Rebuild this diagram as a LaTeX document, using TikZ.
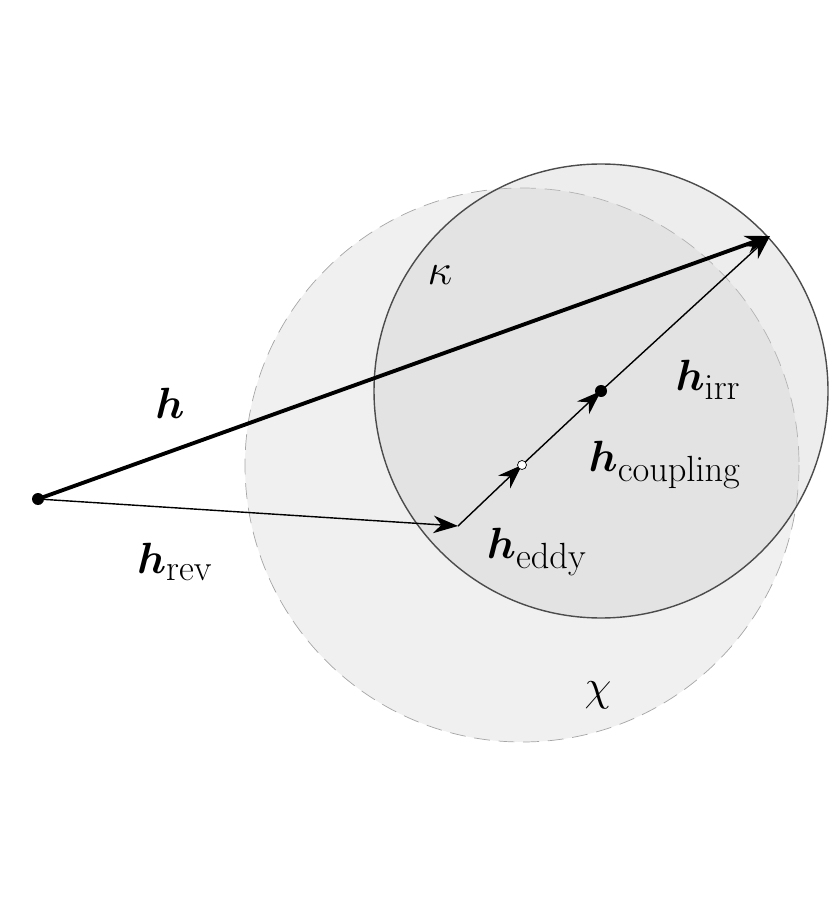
\documentclass[tikz,border=0pt]{standalone}
\usepackage{amsmath,bm}
\usetikzlibrary{arrows.meta}
\tikzset{
  vec/.style={thick,-{Stealth[length=14pt,width=10pt]}},
  lbl/.style={font=\fontsize{30}{36}\selectfont}
}
\begin{document}
\begin{tikzpicture}[x=0.02cm, y=-0.02cm]
    \useasboundingbox (0,0) rectangle (832,901);
    % circles
    \fill[gray!12] (522,465) circle (277);
    \draw[gray!70, dashed, dash pattern=on 9pt off 5pt] (522,465) circle (277);
    \fill[gray!40, opacity=0.35] (601,391) circle (227);
    \draw[black!70, thick] (601,391) circle (227);

    \coordinate (o) at (38,499);
    \coordinate (tip) at (770,236);
    \coordinate (rev) at (458,526);
    \coordinate (cpl) at (522,465);
    \coordinate (irr) at (601,391);

    \draw[vec, line width=2.2pt] (o) -- (tip);
    \draw[vec] (o) -- (rev);
    \draw[vec] (rev) -- (cpl);
    \draw[vec] (cpl) -- (irr);
    \draw[vec] (irr) -- (tip);
    \fill (o) circle (6);
    \fill (irr) circle (6);
    \draw[fill=white] (cpl) circle (4.5);

    \node[lbl] (lh) at (170,403) {$\bm{h}$};
    \node[lbl] (lrev) at (175,562) {$\bm{h}_{\mathrm{rev}}$};
    \node[lbl] (leddy) at (537,552) {$\bm{h}_{\mathrm{eddy}}$};
    \node[lbl] (lcpl) at (665,465) {$\bm{h}_{\mathrm{coupling}}$};
    \node[lbl] (lirr) at (708,380) {$\bm{h}_{\mathrm{irr}}$};
    \node[lbl] (lk) at (440,275) {$\kappa$};
    \node[lbl] (lc) at (598,695) {$\chi$};
\end{tikzpicture}
\end{document}
